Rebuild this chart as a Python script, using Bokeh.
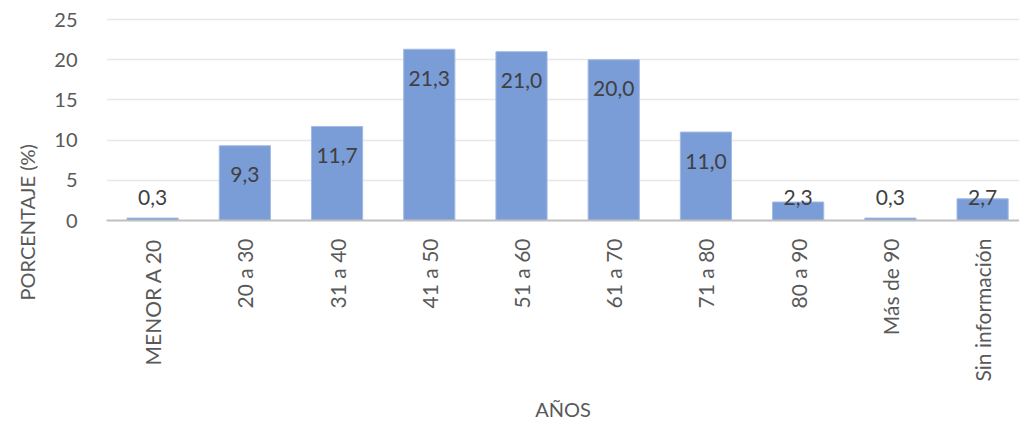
import numpy as np
from bokeh.plotting import figure
from bokeh.models import ColumnDataSource, FixedTicker, Range1d, LabelSet, Title
from bokeh.core.properties import value
from bokeh.embed import file_html
from bokeh.resources import INLINE

# Age groups and their share of cases (%)
categories = ["MENOR A 20", "20 a 30", "31 a 40", "41 a 50", "51 a 60",
              "61 a 70", "71 a 80", "80 a 90", "Más de 90", "Sin información"]
percent = [0.3, 9.3, 11.7, 21.3, 21.0, 20.0, 11.0, 2.3, 0.3, 2.7]
y_ticks = [0, 5, 10, 15, 20, 25]

FONT = "Lato"
AXIS_TXT = "#595959"
LABEL_TXT = "#404040"

x = list(range(len(categories)))
# value labels sit just inside the bar top; short bars keep them above the axis
label_y = [max(v - 3.6, 2.85) for v in percent]
label_txt = [f"{v:.1f}".replace(".", ",") for v in percent]

src = ColumnDataSource(dict(x=x, top=percent, ly=label_y, txt=label_txt))

p = figure(width=1019, height=432, output_backend="svg", toolbar_location=None,
           x_range=Range1d(-0.5, 9.40), y_range=Range1d(0, 25.5),
           min_border_left=105, min_border_right=0, min_border_top=15,
           min_border_bottom=212)
p.outline_line_color = None
p.background_fill_color = "white"
p.border_fill_color = "white"

p.vbar(x="x", top="top", width=0.555, source=src,
       fill_color="#7A9CD7", line_color="#A3BAE4", line_width=1)

p.add_layout(LabelSet(x="x", y="ly", text="txt", source=src,
                      text_align="center", text_baseline="middle",
                      text_font=value(FONT), text_font_size="21px",
                      text_color=LABEL_TXT))

# axes
p.xgrid.grid_line_color = None
p.ygrid.grid_line_color = "#E8E8E8"
p.ygrid.grid_line_width = 1.5
p.ygrid.ticker = FixedTicker(ticks=y_ticks[1:])

p.yaxis.ticker = FixedTicker(ticks=y_ticks)
p.yaxis.axis_line_color = None
p.yaxis.major_tick_line_color = None
p.yaxis.minor_tick_line_color = None
p.yaxis.major_label_standoff = 23
p.yaxis.major_label_text_font = FONT
p.yaxis.major_label_text_font_size = "20px"
p.yaxis.major_label_text_color = AXIS_TXT

p.xaxis.ticker = FixedTicker(ticks=x)
p.xaxis.major_label_overrides = {i: c for i, c in enumerate(categories)}
p.xaxis.major_label_orientation = np.pi / 2
p.xaxis.axis_line_color = "#BFBFBF"
p.xaxis.axis_line_width = 2
p.xaxis.major_tick_line_color = None
p.xaxis.minor_tick_line_color = None
p.xaxis.major_label_standoff = 12
p.xaxis.major_label_text_font = FONT
p.xaxis.major_label_text_font_size = "21px"
p.xaxis.major_label_text_color = AXIS_TXT

# axis titles
p.add_layout(Title(text="AÑOS", align="center", text_font=FONT,
                   text_font_size="20px", text_font_style="normal",
                   text_color=AXIS_TXT, standoff=20), "below")
p.add_layout(Title(text="PORCENTAJE (%)", align="left", offset=-80,
                   text_font=FONT, text_font_size="20px",
                   text_font_style="normal", text_color=AXIS_TXT,
                   standoff=25), "left")

open("out.html", "w").write(file_html(p, INLINE))
